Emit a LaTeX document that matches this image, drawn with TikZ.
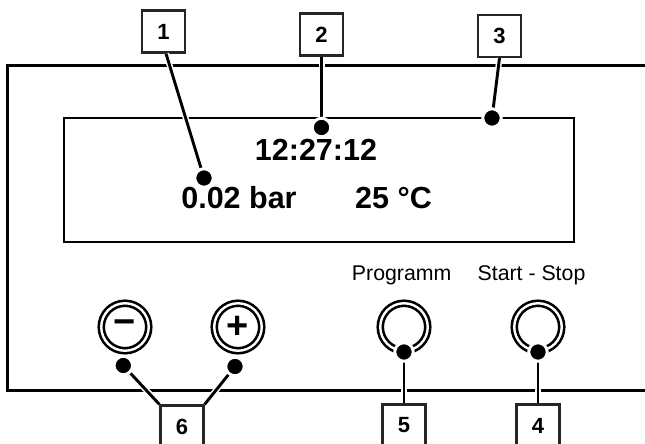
\documentclass[tikz,border=0pt]{standalone}
\usepackage{fontspec}
\setmainfont{Liberation Sans}
\usetikzlibrary{calc}
\tikzset{
  numbox/.style={draw=black!85,line width=2.2pt,fill=white,minimum width=43pt,minimum height=42pt,inner sep=0pt,font=\fontsize{22}{22}\selectfont\bfseries},
  knob/.style={circle,draw,line width=2.6pt,double,double distance=2.4pt,minimum size=47.5pt,inner sep=0pt,font=\fontsize{38}{38}\selectfont\bfseries},
  pin/.style={circle,fill=black,draw=white,line width=3pt,inner sep=0pt,minimum size=18.5pt},
  lead/.style={line width=2.9pt,preaction={draw=white,line width=6pt}},
  big/.style={font=\fontsize{30.5}{30.5}\selectfont\bfseries,inner sep=0pt,anchor=base},
  small/.style={font=\fontsize{21.3}{21.3}\selectfont,inner sep=0pt,anchor=base}
}
\begin{document}
\begin{tikzpicture}[x=1pt,y=-1pt]
                      \useasboundingbox (0,0) rectangle (645,444);
                      \draw[line width=3pt] (646,66) -| (7,390) -- (646,390);
                      \draw[line width=2.8pt] (64,118) rectangle (574,242);
                      \node[big](time)at(316,160){12:27:12};
                      \node[big](press)at(239,208){0.02 bar};
                      \node[big](temp)at(393.5,208){25 °C};
                      \node[small](prog)at(401.7,280){Programm};
                      \node[small](start)at(531.5,280){Start - Stop};
                      \node[knob](minus)at(125,327){−};
                      \node[knob](plus)at(238,327){+};
                      \node[knob](kprog)at(404,327){};
                      \node[knob](kstart)at(538,327){};
                      \node[numbox](b1)at(163.5,31.5){1};
                      \node[numbox](b2)at(321.5,34.5){2};
                      \node[numbox](b3)at(499.5,36){3};
                      \node[numbox](b6)at(182,426.5){6};
                      \node[numbox](b5)at(404,425.5){5};
                      \node[numbox](b4)at(538,425.5){4};
                      \coordinate (p1) at (204,178);
                      \coordinate (p2) at (321.5,127.5);
                      \coordinate (p3) at (492,118);
                      \coordinate (p6a) at (123.3,365.5);
                      \coordinate (p6b) at (235,366.5);
                      \coordinate (p5) at (404,352);
                      \coordinate (p4) at (538,352);
                      \draw[lead] ([xshift=2.5pt]b1.south) -- (p1);
                      \draw[lead] (b2.south) -- (p2);
                      \draw[lead] (b3.south) -- (p3);
                      \draw[lead] (b6.north west) -- (p6a);
                      \draw[lead] (b6.north east) -- (p6b);
                      \draw[lead] (b5.north) -- (p5);
                      \draw[lead] (b4.north) -- (p4);
                      \node[pin](d1)at(p1){};
                      \node[pin](d2)at(p2){};
                      \node[pin](d3)at(p3){};
                      \node[pin](d6a)at(p6a){};
                      \node[pin](d6b)at(p6b){};
                      \node[pin](d5)at(p5){};
                      \node[pin](d4)at(p4){};
\end{tikzpicture}
\end{document}
